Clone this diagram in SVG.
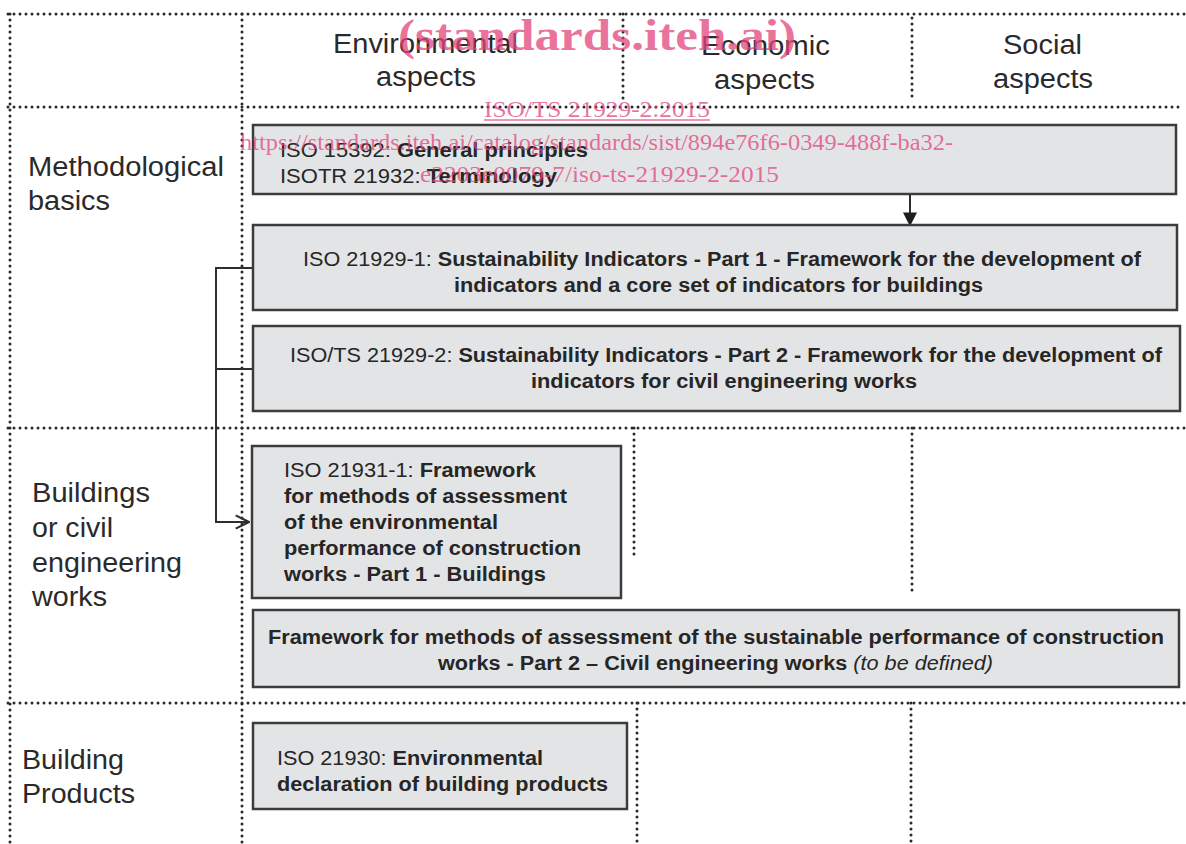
<svg xmlns="http://www.w3.org/2000/svg" width="1186" height="844" viewBox="0 0 1186 844">
<defs>
<style>
.dot{stroke:#2a2a2a;stroke-width:3;stroke-dasharray:0 6;stroke-linecap:round;fill:none}
.box{fill:#e3e4e5;stroke:#3c3c3c;stroke-width:2.5}
.con{stroke:#2e2e2e;stroke-width:2;fill:none}
.t{font-family:"Liberation Sans",Arial,sans-serif;font-size:20px;fill:#262626}
.b{font-weight:bold}
.h{font-family:"Liberation Sans",Arial,sans-serif;font-size:27px;fill:#2a2a2a}
.wm{font-family:"Liberation Serif","Times New Roman",serif;fill:#e2457c;fill-opacity:0.75}
</style>
<marker id="fill" viewBox="0 0 10 10" refX="9" refY="5" markerWidth="14" markerHeight="14" markerUnits="userSpaceOnUse" orient="auto">
<path d="M0,0 L10,5 L0,10 Z" fill="#1e1e1e"/>
</marker>
<marker id="open" viewBox="0 0 12 12" refX="11" refY="6" markerWidth="16" markerHeight="16" markerUnits="userSpaceOnUse" orient="auto">
<path d="M1,1 L11,6 L1,11" fill="none" stroke="#2e2e2e" stroke-width="1.6"/>
</marker>
</defs>
<rect width="1186" height="844" fill="#ffffff"/>
<g id="grid">
<line class="dot" x1="8" y1="14" x2="1186" y2="14"/>
<line class="dot" x1="10" y1="14" x2="10" y2="844"/>
<line class="dot" x1="242" y1="14" x2="242" y2="844"/>
<line class="dot" x1="623" y1="14" x2="623" y2="100"/>
<line class="dot" x1="912" y1="18" x2="912" y2="100"/>
<line class="dot" x1="8" y1="107" x2="1182" y2="107"/>
<line class="dot" x1="8" y1="428" x2="1186" y2="428"/>
<line class="dot" x1="634" y1="428" x2="634" y2="560"/>
<line class="dot" x1="912" y1="428" x2="912" y2="595"/>
<line class="dot" x1="8" y1="703" x2="1186" y2="703"/>
<line class="dot" x1="637" y1="703" x2="637" y2="844"/>
<line class="dot" x1="911" y1="703" x2="911" y2="844"/>
</g>
<g id="headers">
<text class="h" x="333" y="53" textLength="185" lengthAdjust="spacingAndGlyphs">Environmental</text>
<text class="h" x="376" y="86" textLength="100" lengthAdjust="spacingAndGlyphs">aspects</text>
<text class="h" x="701" y="55" textLength="129" lengthAdjust="spacingAndGlyphs">Economic</text>
<text class="h" x="714" y="89" textLength="101" lengthAdjust="spacingAndGlyphs">aspects</text>
<text class="h" x="1003" y="54" textLength="79" lengthAdjust="spacingAndGlyphs">Social</text>
<text class="h" x="993" y="88" textLength="100" lengthAdjust="spacingAndGlyphs">aspects</text>
</g>
<g id="rowlabels">
<text class="h" x="28" y="176" textLength="196" lengthAdjust="spacingAndGlyphs">Methodological</text>
<text class="h" x="28" y="210" textLength="82" lengthAdjust="spacingAndGlyphs">basics</text>
<text class="h" x="32" y="502" textLength="118" lengthAdjust="spacingAndGlyphs">Buildings</text>
<text class="h" x="32" y="537" textLength="81" lengthAdjust="spacingAndGlyphs">or civil</text>
<text class="h" x="32" y="572" textLength="150" lengthAdjust="spacingAndGlyphs">engineering</text>
<text class="h" x="32" y="606" textLength="75" lengthAdjust="spacingAndGlyphs">works</text>
<text class="h" x="22" y="769" textLength="102" lengthAdjust="spacingAndGlyphs">Building</text>
<text class="h" x="22" y="803" textLength="113" lengthAdjust="spacingAndGlyphs">Products</text>
</g>
<g id="connectors">
<line class="con" x1="910" y1="194" x2="910" y2="225" marker-end="url(#fill)"/>
<polyline class="con" points="253,268 216,268 216,522 249,522" marker-end="url(#open)"/>
<line class="con" x1="216" y1="369" x2="253" y2="369"/>
</g>
<g id="n1">
<rect class="box" x="253" y="125" width="923" height="69"/>
<text class="t" x="280" y="157" textLength="308" lengthAdjust="spacingAndGlyphs">ISO 15392: <tspan class="b">General principles</tspan></text>
<text class="t" x="280" y="183" textLength="277" lengthAdjust="spacingAndGlyphs">ISOTR 21932: <tspan class="b">Terminology</tspan></text>
</g>
<g id="n2">
<rect class="box" x="253" y="225" width="924" height="85"/>
<text class="t" x="303" y="266" textLength="838" lengthAdjust="spacingAndGlyphs">ISO 21929-1: <tspan class="b">Sustainability Indicators - Part 1 - Framework for the development of</tspan></text>
<text class="t b" x="454" y="292" textLength="529" lengthAdjust="spacingAndGlyphs">indicators and a core set of indicators for buildings</text>
</g>
<g id="n3">
<rect class="box" x="253" y="326" width="927" height="85"/>
<text class="t" x="290" y="362" textLength="872" lengthAdjust="spacingAndGlyphs">ISO/TS 21929-2: <tspan class="b">Sustainability Indicators - Part 2 - Framework for the development of</tspan></text>
<text class="t b" x="531" y="388" textLength="386" lengthAdjust="spacingAndGlyphs">indicators for civil engineering works</text>
</g>
<g id="n4">
<rect class="box" x="252" y="446" width="369" height="152"/>
<text class="t" x="284" y="477" textLength="252" lengthAdjust="spacingAndGlyphs">ISO 21931-1: <tspan class="b">Framework</tspan></text>
<text class="t b" x="284" y="503" textLength="283" lengthAdjust="spacingAndGlyphs">for methods of assessment</text>
<text class="t b" x="284" y="529" textLength="214" lengthAdjust="spacingAndGlyphs">of the environmental</text>
<text class="t b" x="284" y="555" textLength="297" lengthAdjust="spacingAndGlyphs">performance of construction</text>
<text class="t b" x="284" y="581" textLength="262" lengthAdjust="spacingAndGlyphs">works - Part 1 - Buildings</text>
</g>
<g id="n5">
<rect class="box" x="253" y="610" width="926" height="77"/>
<text class="t b" x="268" y="644" textLength="896" lengthAdjust="spacingAndGlyphs">Framework for methods of assessment of the sustainable performance of construction</text>
<text class="t" x="438" y="670" textLength="555" lengthAdjust="spacingAndGlyphs"><tspan class="b">works - Part 2 – Civil engineering works </tspan><tspan font-style="italic">(to be defined)</tspan></text>
</g>
<g id="n6">
<rect class="box" x="253" y="723" width="374" height="86"/>
<text class="t" x="277" y="765" textLength="266" lengthAdjust="spacingAndGlyphs">ISO 21930: <tspan class="b">Environmental</tspan></text>
<text class="t b" x="277" y="791" textLength="331" lengthAdjust="spacingAndGlyphs">declaration of building products</text>
</g>
<g id="watermark">
<text class="wm" x="597" y="50" font-size="44" font-weight="bold" text-anchor="middle" textLength="398" lengthAdjust="spacingAndGlyphs">(standards.iteh.ai)</text>
<text class="wm" x="484" y="117" font-size="24" textLength="226" lengthAdjust="spacingAndGlyphs">ISO/TS 21929-2:2015</text>
<line x1="484" y1="120" x2="710" y2="120" stroke="#e2457c" stroke-opacity="0.75" stroke-width="1.5"/>
<text class="wm" x="240" y="150" font-size="24" textLength="713" lengthAdjust="spacingAndGlyphs">https://standards.iteh.ai/catalog/standards/sist/894e76f6-0349-488f-ba32-</text>
<text class="wm" x="420" y="182" font-size="24" textLength="359" lengthAdjust="spacingAndGlyphs">e2203e0079-7/iso-ts-21929-2-2015</text>
</g>
</svg>
